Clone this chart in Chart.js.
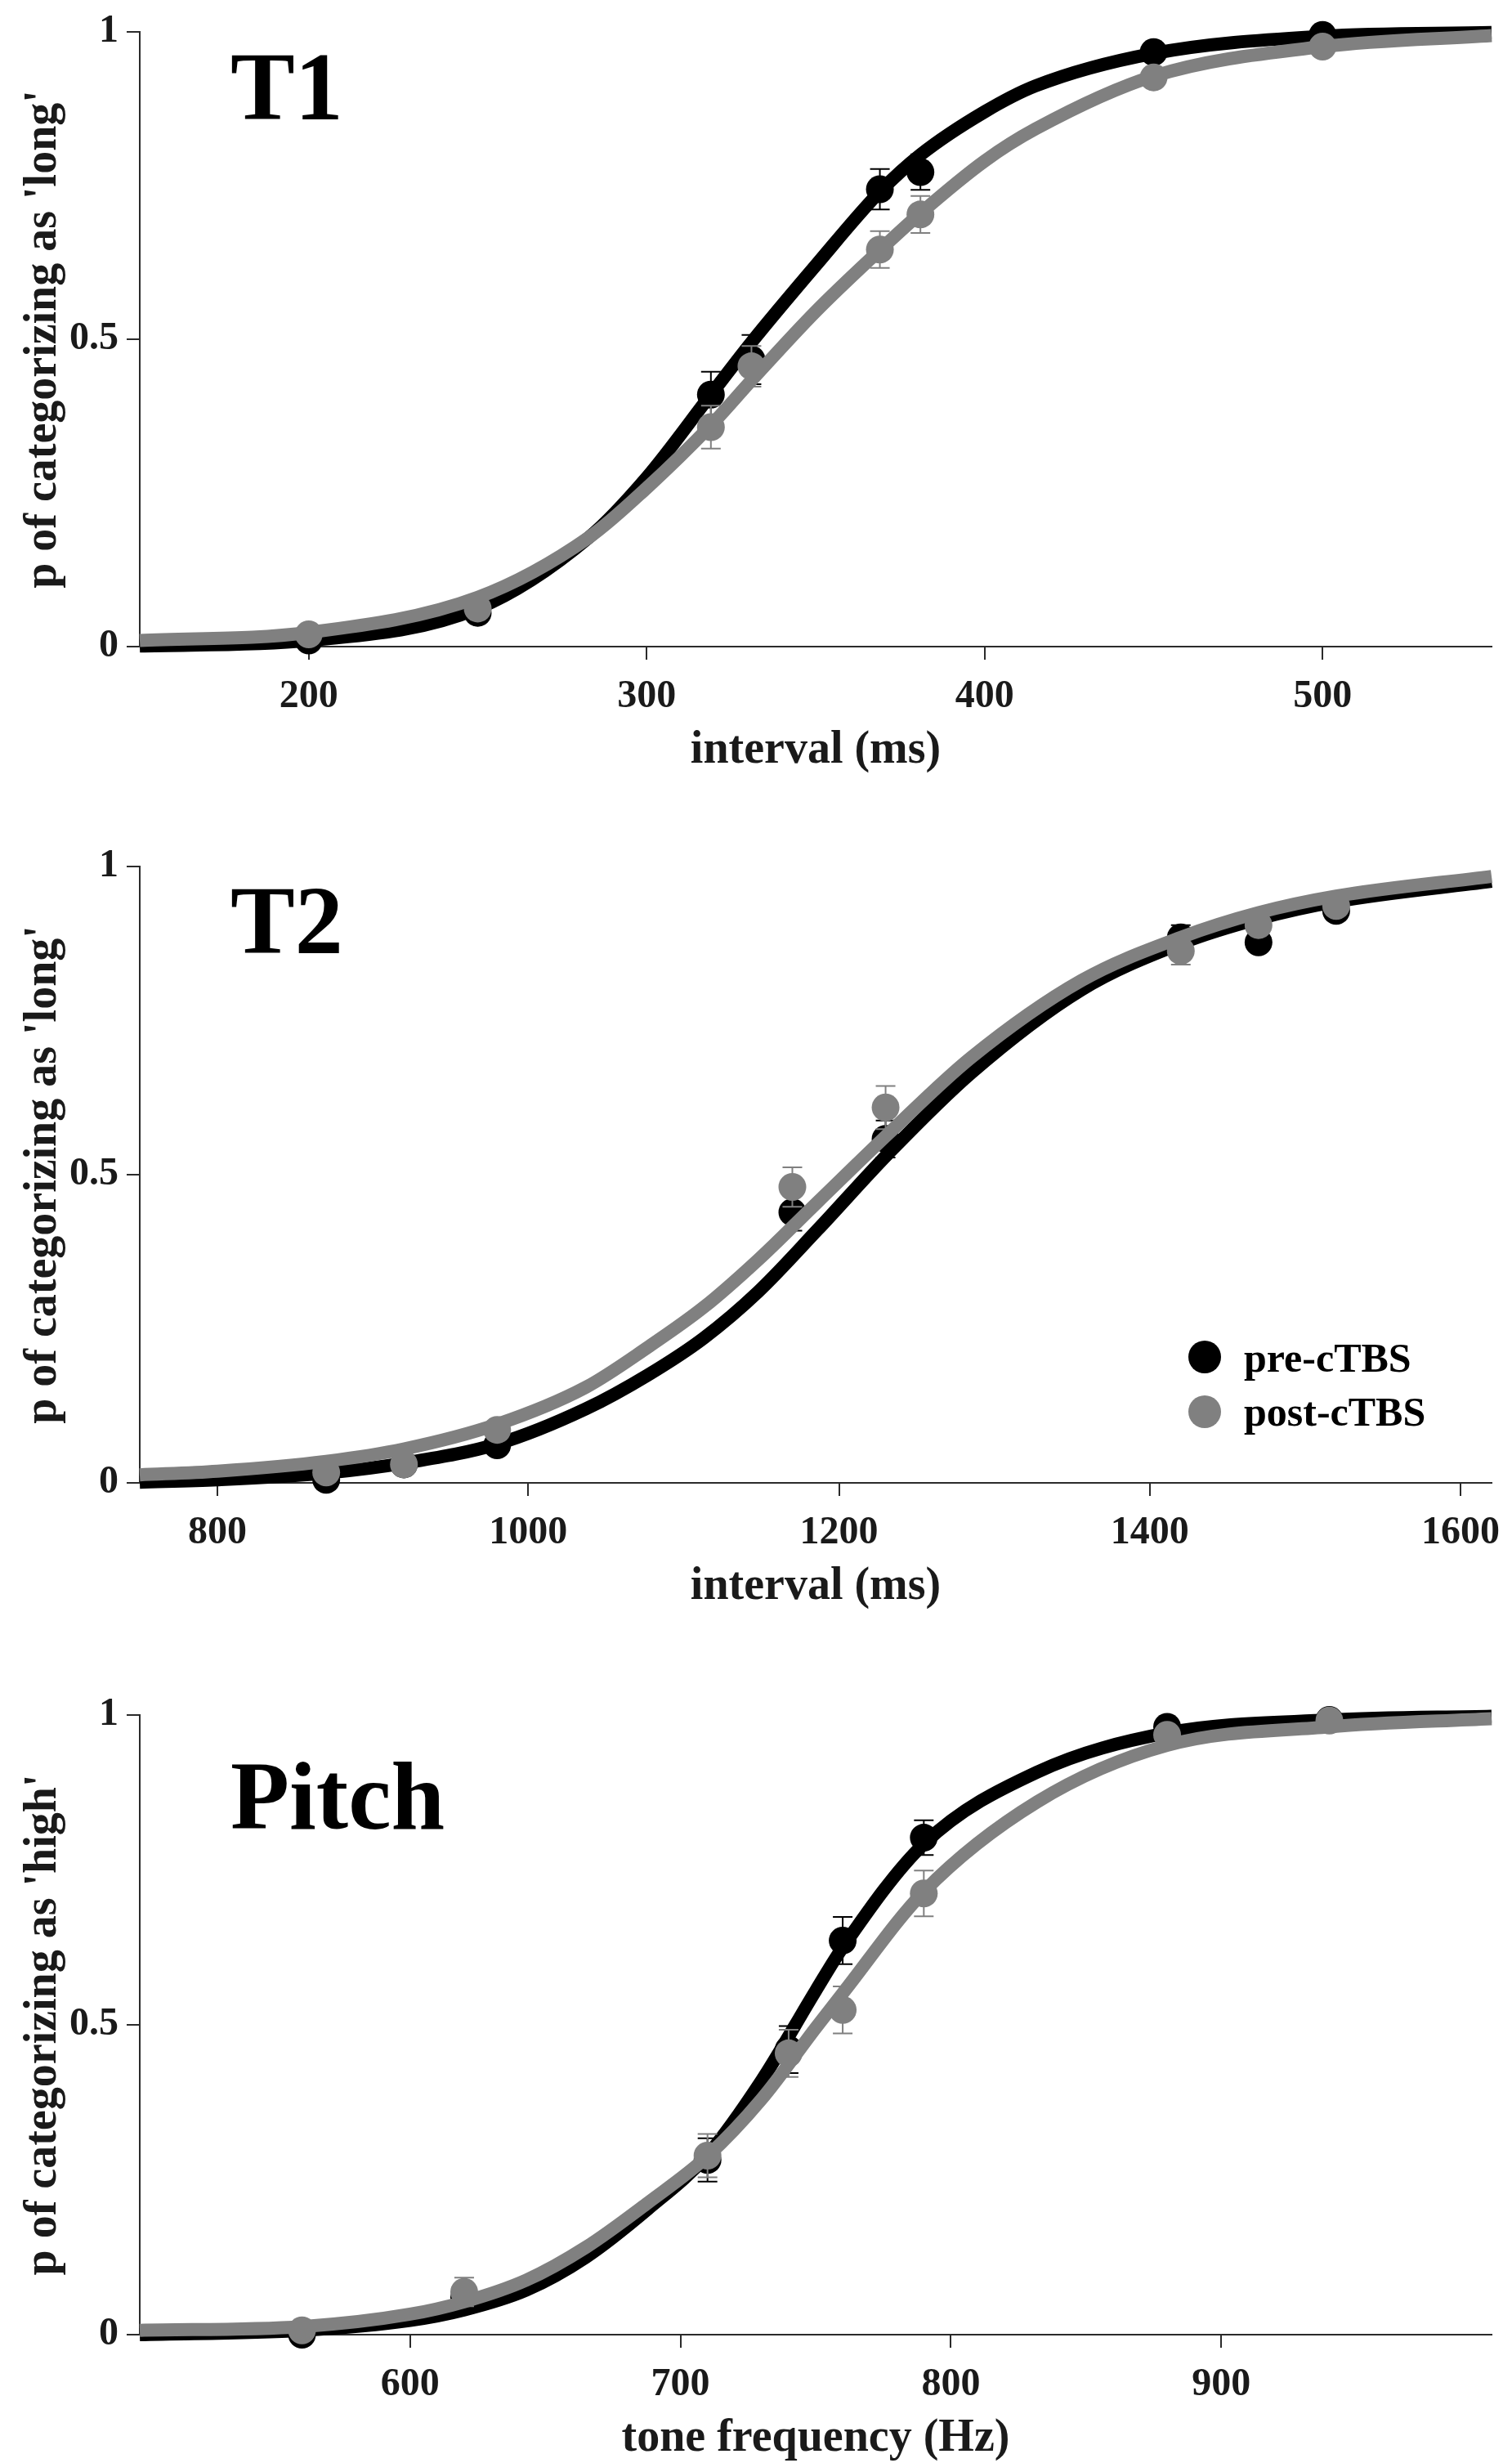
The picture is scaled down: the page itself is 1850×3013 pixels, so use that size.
<!DOCTYPE html>
<html>
<head>
<meta charset="utf-8">
<script src="https://cdn.jsdelivr.net/npm/chart.js@4/dist/chart.umd.min.js"></script>
<style>
  html, body { margin: 0; padding: 0; background: #fff; }
  body { position: relative; width: 1850px; height: 3013px; overflow: hidden;
         font-family: "Liberation Serif", "Times New Roman", serif; }
  canvas { position: absolute; left: 0; }
  .ptitle { position: absolute; font-weight: bold; font-size: 118px; line-height: 1; color: #000; white-space: nowrap; }
  .leg { position: absolute; font-weight: bold; font-size: 50px; line-height: 1; color: #000; white-space: nowrap; }
  .dot { position: absolute; width: 40px; height: 40px; border-radius: 50%; }
</style>
</head>
<body>
<div class="ptitle" style="left:282px; top:48px">T1</div>
<div class="ptitle" style="left:282px; top:1068px">T2</div>
<div class="ptitle" style="left:282px; top:2139px">Pitch</div>

<div class="dot" style="left:1454px; top:1640px; background:#000"></div>
<div class="leg" style="left:1522px; top:1636px">pre-cTBS</div>
<div class="dot" style="left:1454px; top:1707px; background:#808080"></div>
<div class="leg" style="left:1522px; top:1702px">post-cTBS</div>

<script>
// T1 panel
const T1_X = [200, 250, 319, 331, 369, 381, 450, 500];
const T1_PRE = [0.01, 0.055, 0.41, 0.467, 0.744, 0.772, 0.967, 0.995];
const T1_PRE_ERR = [0.005, 0.008, 0.037, 0.04, 0.033, 0.029, 0.008, 0.004];
const T1_POST = [0.02, 0.062, 0.357, 0.456, 0.646, 0.703, 0.926, 0.976];
const T1_POST_ERR = [0.005, 0.008, 0.035, 0.033, 0.03, 0.03, 0.01, 0.006];
const T1_FIT_X = [150, 200, 250, 283, 300, 319, 331, 350, 369, 381, 400, 415, 450, 500, 550];
const T1_PRE_FIT = [0.001, 0.01, 0.062, 0.178, 0.275, 0.41, 0.495, 0.62, 0.74, 0.8, 0.87, 0.912, 0.965, 0.993, 0.999];
const T1_POST_FIT = [0.01, 0.023, 0.08, 0.178, 0.258, 0.36, 0.433, 0.545, 0.645, 0.705, 0.79, 0.842, 0.928, 0.976, 0.994];
const T1_XTICKS = [200, 300, 400, 500];

// T2 panel
const T2_X = [870, 920, 980, 1170, 1230, 1420, 1470, 1520];
const T2_PRE = [0.005, 0.03, 0.061, 0.439, 0.558, 0.885, 0.877, 0.928];
const T2_PRE_ERR = [0.005, 0.008, 0.01, 0.03, 0.03, 0.02, 0.012, 0.01];
const T2_POST = [0.017, 0.03, 0.086, 0.48, 0.609, 0.863, 0.905, 0.936];
const T2_POST_ERR = [0.005, 0.008, 0.01, 0.032, 0.035, 0.022, 0.012, 0.01];
const T2_FIT_X = [750, 800, 870, 920, 980, 1037, 1077, 1113, 1148, 1186, 1232, 1285, 1356, 1420, 1470, 1520, 1620];
const T2_PRE_FIT = [0.001, 0.005, 0.016, 0.032, 0.063, 0.12, 0.175, 0.235, 0.31, 0.41, 0.535, 0.665, 0.8, 0.875, 0.915, 0.943, 0.976];
const T2_POST_FIT = [0.013, 0.019, 0.035, 0.055, 0.095, 0.155, 0.22, 0.285, 0.362, 0.455, 0.567, 0.69, 0.815, 0.885, 0.925, 0.952, 0.984];
const T2_XTICKS = [800, 1000, 1200, 1400, 1600];

// Pitch panel
const P_X = [560, 620, 710, 740, 760, 790, 880, 940];
const P_PRE = [0.0, 0.06, 0.282, 0.46, 0.636, 0.802, 0.981, 0.992];
const P_PRE_ERR = [0.005, 0.02, 0.035, 0.038, 0.038, 0.028, 0.01, 0.005];
const P_POST = [0.007, 0.069, 0.289, 0.454, 0.524, 0.712, 0.968, 0.991];
const P_POST_ERR = [0.005, 0.023, 0.035, 0.038, 0.038, 0.037, 0.01, 0.005];
const P_FIT_X = [500, 560, 600, 620, 643, 665, 688, 710, 730, 750, 760, 790, 832, 880, 940, 1000];
const P_PRE_FIT = [0.0, 0.007, 0.023, 0.04, 0.072, 0.125, 0.203, 0.29, 0.41, 0.555, 0.625, 0.792, 0.908, 0.971, 0.992, 0.998];
const P_POST_FIT = [0.007, 0.013, 0.033, 0.053, 0.088, 0.141, 0.213, 0.288, 0.38, 0.495, 0.551, 0.715, 0.86, 0.951, 0.981, 0.994];
const P_XTICKS = [600, 700, 800, 900];

const Y_TICKS = [0, 0.5, 1];

const BLACK = "#000000";
const GREY = "#808080";
const AXIS = "#2b2b2b";
const FONT = "'Liberation Serif', 'Times New Roman', serif";

const zip = (xs, ys) => xs.map((x, i) => ({ x, y: ys[i] }));

// draws the vertical error bars for a points dataset right after it is drawn
const errorBars = {
  id: "errorBars",
  afterDatasetDraw(chart, args) {
    const ds = chart.data.datasets[args.index];
    if (!ds.errors) return;
    const { ctx, scales: { x, y } } = chart;
    ctx.save();
    ctx.strokeStyle = ds.backgroundColor;
    ctx.lineWidth = 2;
    ds.data.forEach((p, i) => {
      const px = x.getPixelForValue(p.x);
      const top = y.getPixelForValue(p.y + ds.errors[i])
      const bot = y.getPixelForValue(p.y - ds.errors[i]);
      ctx.beginPath();
      ctx.moveTo(px, top); ctx.lineTo(px, bot);
      ctx.moveTo(px - 12, top); ctx.lineTo(px + 12, top);
      ctx.moveTo(px - 12, bot); ctx.lineTo(px + 12, bot);
      ctx.stroke();
    });
    ctx.restore();
  }
};

function makePanel(p) {
  const canvas = document.createElement("canvas");
  const top = p.areaTop - 60;
  const height = p.areaBottom + 230 - top;
  canvas.width = 1850;
  canvas.height = height;
  canvas.style.top = top + "px";
  document.body.appendChild(canvas);

  const fitLine = (data, color, order) => ({
    data, order, showLine: true, borderColor: color, borderWidth: 16,
    pointRadius: 0, cubicInterpolationMode: "monotone", clip: false, fill: false
  });
  const points = (data, errors, color, order) => ({
    data, errors, order, showLine: false, backgroundColor: color, borderWidth: 0,
    pointRadius: 17, pointHoverRadius: 17, pointStyle: "circle", clip: false
  });

  new Chart(canvas, {
    type: "scatter",
    data: {
      datasets: [
        points(zip(p.x, p.post), p.postErr, GREY, 0),
        fitLine(zip(p.fitX, p.postFit), GREY, 1),
        points(zip(p.x, p.pre), p.preErr, BLACK, 2),
        fitLine(zip(p.fitX, p.preFit), BLACK, 3)
      ]
    },
    options: {
      responsive: false,
      animation: false,
      devicePixelRatio: 1,
      layout: { padding: { top: 60, right: 25, left: 0, bottom: 0 } },
      plugins: { legend: { display: false }, tooltip: { enabled: false } },
      scales: {
        x: {
          type: "linear", min: p.xMin, max: p.xMax,
          afterBuildTicks: s => { s.ticks = p.xTicks.map(v => ({ value: v })); },
          afterFit: s => { s.height = 230; s.paddingLeft = 0; s.paddingRight = 0; },
          grid: { drawOnChartArea: false, drawTicks: true, tickLength: 16, color: AXIS, lineWidth: 2 },
          border: { display: true, color: AXIS, width: 2 },
          ticks: { padding: 17, color: "#1a1a1a", font: { family: FONT, size: 48, weight: "bold" },
                   callback: v => String(v) },
          title: { display: true, text: p.xTitle, color: "#1a1a1a", padding: { top: 0, bottom: 69 },
                   font: { family: FONT, size: 56, weight: "bold" } }
        },
        y: {
          type: "linear", min: 0, max: 1,
          afterBuildTicks: s => { s.ticks = Y_TICKS.map(v => ({ value: v })); },
          afterFit: s => { s.width = 171; s.paddingTop = 0; s.paddingBottom = 0; },
          grid: { drawOnChartArea: false, drawTicks: true, tickLength: 16, color: AXIS, lineWidth: 2 },
          border: { display: true, color: AXIS, width: 2 },
          ticks: { padding: 10, color: "#1a1a1a", font: { family: FONT, size: 48, weight: "bold" },
                   callback: v => String(v) },
          title: { display: true, text: p.yTitle, color: "#1a1a1a", padding: { top: 20, bottom: 0 },
                   font: { family: FONT, size: 56, weight: "bold" } }
        }
      }
    },
    plugins: [errorBars]
  });
}

makePanel({
  areaTop: 39, areaBottom: 791, xMin: 150, xMax: 550, xTicks: T1_XTICKS,
  x: T1_X, pre: T1_PRE, preErr: T1_PRE_ERR, post: T1_POST, postErr: T1_POST_ERR,
  fitX: T1_FIT_X, preFit: T1_PRE_FIT, postFit: T1_POST_FIT,
  xTitle: "interval (ms)", yTitle: "p of categorizing as 'long'"
});
makePanel({
  areaTop: 1060, areaBottom: 1814, xMin: 750, xMax: 1620, xTicks: T2_XTICKS,
  x: T2_X, pre: T2_PRE, preErr: T2_PRE_ERR, post: T2_POST, postErr: T2_POST_ERR,
  fitX: T2_FIT_X, preFit: T2_PRE_FIT, postFit: T2_POST_FIT,
  xTitle: "interval (ms)", yTitle: "p of categorizing as 'long'"
});
makePanel({
  areaTop: 2098, areaBottom: 2856, xMin: 500, xMax: 1000, xTicks: P_XTICKS,
  x: P_X, pre: P_PRE, preErr: P_PRE_ERR, post: P_POST, postErr: P_POST_ERR,
  fitX: P_FIT_X, preFit: P_PRE_FIT, postFit: P_POST_FIT,
  xTitle: "tone frequency (Hz)", yTitle: "p of categorizing as 'high'"
});
</script>
</body>
</html>
